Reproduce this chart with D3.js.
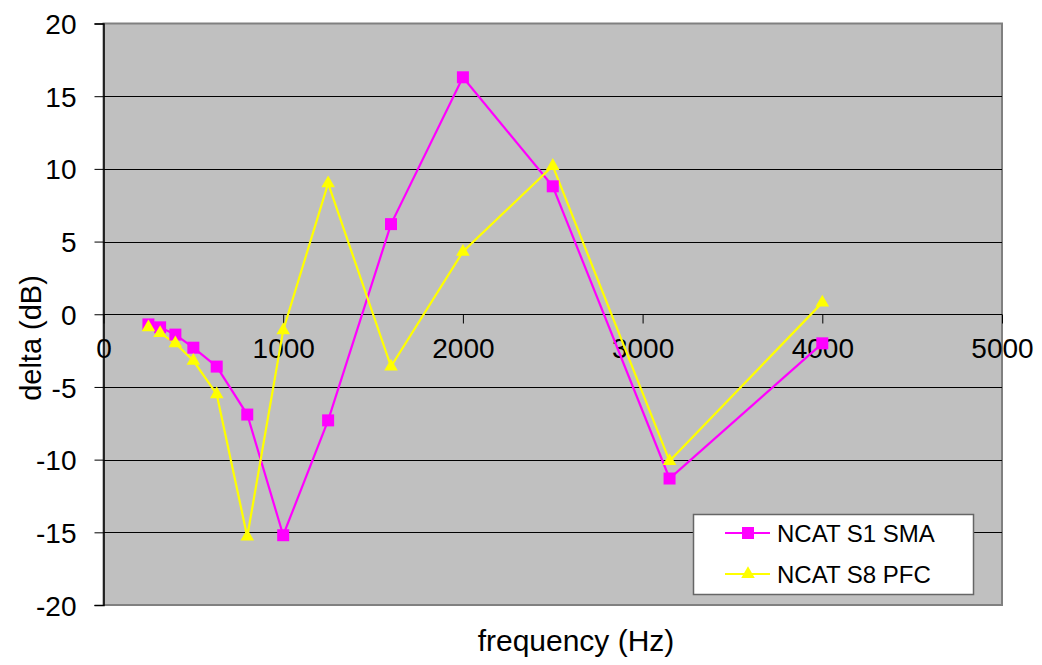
<!DOCTYPE html>
<html>
<head>
<meta charset="utf-8">
<script src="https://cdn.jsdelivr.net/npm/d3@7"></script>
<style>
  body { margin: 0; background: #fff; }
  text { font-family: "Liberation Sans", Arial, sans-serif; }
</style>
</head>
<body>
<div id="canvas"></div>
<script>
// frequencies of the 1/3 octave bands (Hz)
const frequencies = [250, 315, 400, 500, 630, 800, 1000, 1250, 1600, 2000, 2500, 3150, 4000];
// delta values (dB)
const smaValues = [-0.7, -0.9, -1.4, -2.3, -3.6, -6.9, -15.2, -7.3, 6.2, 16.3, 8.8, -11.3, -2.0];
const pfcValues = [-0.9, -1.3, -2.0, -3.2, -5.5, -15.3, -1.1, 9.0, -3.6, 4.3, 10.2, -10.1, 0.8];
const seriesNames = ["NCAT S1 SMA", "NCAT S8 PFC"];
const xTicks = [0, 1000, 2000, 3000, 4000, 5000];
const yTicks = [-20, -15, -10, -5, 0, 5, 10, 15, 20];

const W = 1042, H = 665;
const plot = {left: 103.5, right: 1002, top: 23.5, bottom: 605};

const svg = d3.select("#canvas")
    .append("svg")
    .attr("width", W)
    .attr("height", H);

const x = d3.scaleLinear().domain([0, 5000]).range([plot.left, plot.right]);
const y = d3.scaleLinear().domain([-20, 20]).range([plot.bottom, plot.top]);

// plot area
svg.append("rect")
    .attr("x", plot.left)
    .attr("y", plot.top)
    .attr("width", plot.right - plot.left)
    .attr("height", plot.bottom - plot.top)
    .style("fill", "#c0c0c0")
    .style("stroke", "#808080")
    .style("stroke-width", 2);

// horizontal grid lines
svg.append("g")
    .selectAll("line")
    .data(yTicks.filter(t => t > -20 && t < 20))
    .enter()
    .append("line")
    .attr("x1", plot.left)
    .attr("x2", plot.right)
    .attr("y1", d => Math.round(y(d)) + 0.5)
    .attr("y2", d => Math.round(y(d)) + 0.5)
    .style("stroke", "#000")
    .style("stroke-width", 1.2);

// y axis (plain hyphen for negatives, like the original)
const yAxis = svg.append("g")
    .attr("transform", "translate(" + plot.left + ",0)")
    .call(d3.axisLeft(y).tickValues(yTicks).tickSize(9).tickPadding(18).tickFormat(d => String(d)));
yAxis.select(".domain").style("stroke", "#000").style("stroke-width", 1.5);
yAxis.selectAll("text")
    .style("font-size", "28px")
    .style("fill", "#000")
    .attr("dy", "0.36em");

// x axis drawn at y = 0
const xAxis = svg.append("g")
    .attr("transform", "translate(0," + (Math.round(y(0)) + 0.5) + ")")
    .call(d3.axisBottom(x).tickValues(xTicks).tickSize(9).tickPadding(15).tickFormat(d => String(d)));
xAxis.select(".domain").remove();
xAxis.selectAll("text")
    .style("font-size", "28px")
    .style("fill", "#000");

// axis titles
svg.append("text")
    .attr("transform", "rotate(-90)")
    .attr("x", -338)
    .attr("y", 41)
    .attr("text-anchor", "middle")
    .style("font-size", "29px")
    .text("delta (dB)");

svg.append("text")
    .attr("x", 576)
    .attr("y", 651)
    .attr("text-anchor", "middle")
    .style("font-size", "30px")
    .text("frequency (Hz)");

// series
const series = [
    {name: seriesNames[0], values: smaValues, color: "#ff00ff", marker: d3.symbolSquare, size: 144},
    {name: seriesNames[1], values: pfcValues, color: "#ffff00", marker: d3.symbolTriangle, size: 80}
];

const line = d3.line()
    .x(d => x(d[0]))
    .y(d => y(d[1]));

series.forEach(function(s) {
    const pts = frequencies.map((f, i) => [f, s.values[i]]);
    svg.append("path")
        .datum(pts)
        .attr("d", line)
        .style("fill", "none")
        .style("stroke", s.color)
        .style("stroke-width", 2.2);
});

series.forEach(function(s) {
    const pts = frequencies.map((f, i) => [f, s.values[i]]);
    svg.append("g")
        .selectAll("path")
        .data(pts)
        .enter()
        .append("path")
        .attr("transform", d => "translate(" + x(d[0]) + "," + y(d[1]) + ")")
        .attr("d", d3.symbol().type(s.marker).size(s.size))
        .style("fill", s.color);
});

// legend
const legend = svg.append("g");
legend.append("rect")
    .attr("x", 693.5)
    .attr("y", 514.5)
    .attr("width", 280)
    .attr("height", 80)
    .style("fill", "#fff")
    .style("stroke", "#666")
    .style("stroke-width", 1.5);

series.forEach(function(s, i) {
    const cy = 533 + i * 41;
    legend.append("line")
        .attr("x1", 725)
        .attr("x2", 770)
        .attr("y1", cy)
        .attr("y2", cy)
        .style("stroke", s.color)
        .style("stroke-width", 2.2);
    legend.append("path")
        .attr("transform", "translate(748," + cy + ")")
        .attr("d", d3.symbol().type(s.marker).size(s.size))
        .style("fill", s.color);
    legend.append("text")
        .attr("x", 777)
        .attr("y", cy)
        .attr("dy", "0.36em")
        .style("font-size", "24px")
        .text(s.name);
});
</script>
</body>
</html>
